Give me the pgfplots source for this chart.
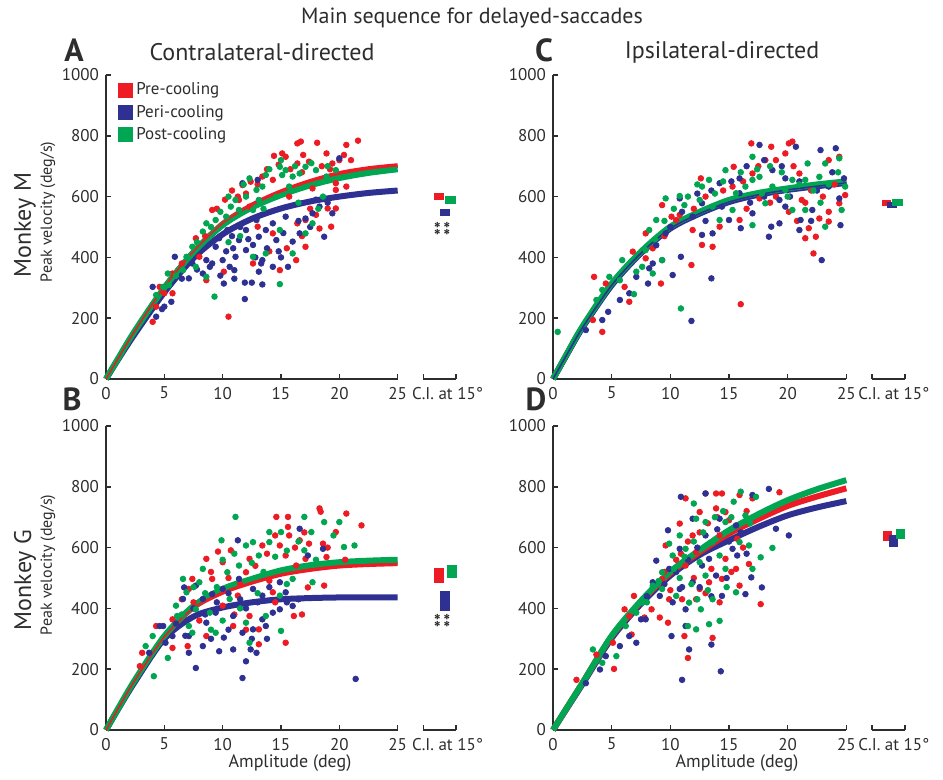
\documentclass[border=0pt]{standalone}
\usepackage{fontspec}
\setmainfont{PT Sans}
\usepackage{pgfplots}
\pgfplotsset{compat=1.18}
\definecolor{cred}{RGB}{237,28,36}
\definecolor{cblue}{RGB}{46,49,146}
\definecolor{cgreen}{RGB}{0,166,81}
\definecolor{axc}{RGB}{45,45,45}
\pgfplotsset{
  panel/.style={
    scale only axis, height=152pt,
    xmin=0, xmax=30, ymin=0, ymax=1000,
    enlargelimits=false, clip=false,
    axis x line*=bottom, axis y line*=left,
    x axis line style={draw=none},
    y axis line style={-, line width=0.9pt, axc},
    xtick={0,5,10,15,20,25}, ytick={0,200,400,600,800,1000},
    extra x ticks={27.2,30}, extra x tick labels={},
    tick align=inside, major tick length=2.5pt,
    tick style={line width=0.8pt, axc},
    ticklabel style={font=\fontsize{8.5}{9}\selectfont, text=axc},
    xticklabel style={yshift=-0.5pt},
    /pgf/number format/assume math mode=true,
    /pgf/number format/1000 sep={},
  },
  sc/.style={only marks, mark=square*, mark size=1.4pt, color=#1, forget plot},
  fit/.style={color=#1, line width=3pt, smooth, no marks, forget plot},
  thin/.style={color=#1, line width=0.8pt, smooth, no marks, forget plot},
  ci/.style={fill=#1, draw=none, forget plot},
}
\tikzset{stars/.style={rotate=90, font=\fontsize{9}{9}\selectfont\bfseries, inner sep=0pt, text=axc}}
\newcommand{\xaxisbroken}{%
  \draw[line width=0.9pt, axc] (axis cs:0,0) -- (axis cs:25,0);
  \draw[line width=0.9pt, axc] (axis cs:27.2,0) -- (axis cs:30,0);
}
\begin{document}
\begin{tikzpicture}
\useasboundingbox (0,0) rectangle (471.5pt,-390pt);
\tikzset{txt/.style={text=axc, inner sep=0pt}}
\node[txt, font=\fontsize{11}{12}\selectfont] at (236pt,-9pt) {Main sequence for delayed-saccades};
\node[txt, font=\fontsize{16}{17}\selectfont\bfseries] at (37pt,-25pt) {A};
\node[txt, font=\fontsize{16}{17}\selectfont\bfseries] at (272pt,-25pt) {C};
\node[txt, font=\fontsize{16}{17}\selectfont\bfseries] at (36pt,-199.5pt) {B};
\node[txt, font=\fontsize{16}{17}\selectfont\bfseries] at (268pt,-199.5pt) {D};
\node[txt, font=\fontsize{12}{13}\selectfont] at (131pt,-26pt) {Contralateral-directed};
\node[txt, font=\fontsize{12}{13}\selectfont] at (361pt,-26pt) {Ipsilateral-directed};
\node[txt, font=\fontsize{12}{13}\selectfont, rotate=90] at (12.5pt,-112.5pt) {Monkey M};
\node[txt, font=\fontsize{8}{9}\selectfont, rotate=90] at (24pt,-106pt) {Peak velocity (deg/s)};
\node[txt, font=\fontsize{12}{13}\selectfont, rotate=90] at (12.5pt,-290pt) {Monkey G};
\node[txt, font=\fontsize{8}{9}\selectfont, rotate=90] at (24pt,-282.5pt) {Peak velocity (deg/s)};
\node[txt, font=\fontsize{9}{10}\selectfont] at (145pt,-381.5pt) {Amplitude (deg)};
\node[txt, font=\fontsize{9}{10}\selectfont] at (368.5pt,-381.5pt) {Amplitude (deg)};

% ---------------- Panel A ----------------
\begin{axis}[panel, width=175pt, at={(53pt,-189.5pt)}, anchor=south west,
  legend style={at={(axis description cs:0.034,0.985)}, anchor=north west, draw=none, fill=none,
    inner sep=0pt, font=\fontsize{8.5}{9}\selectfont, row sep=0.6pt,
    nodes={text=axc, inner sep=1.5pt}},
  legend cell align=left,
  legend image code/.code={\fill[#1] (0pt,-3.75pt) rectangle (7.5pt,3.75pt);}]
\addlegendimage{fill=cred, draw=none}\addlegendentry{Pre-cooling}
\addlegendimage{fill=cblue, draw=none}\addlegendentry{Peri-cooling}
\addlegendimage{fill=cgreen, draw=none}\addlegendentry{Post-cooling}
\xaxisbroken
\addplot[sc=cred] coordinates {(16.4,775)(18.1,777)(20.6,770)(21.6,784)(16.7,781)(15.1,742)(14.4,734)(15.4,731)(16.9,737)(18.9,742)(20.4,737)(20,720)(16.4,709)(17.4,715)(19.4,709)(13.4,666)(12.4,649)(11.7,638)(11.3,600)(11.4,589)(9.1,556)(19.7,644)(20.6,633)(19.7,622)(19,561)(19.7,561)(16.4,512)(17.1,523)(18.3,495)(19.3,501)(17.1,435)(16.3,391)(14.9,358)(12.6,380)(10.1,353)(8.6,325)(10.5,205)(5.7,282)(4,188)(4.6,303)(8,402)(7.7,463)(5.7,347)(12.3,567)(13,501)(14.3,479)(15.7,600)(17.7,627)(14.3,655)(4.3,238)(5,282)
(9.5,560)(10.2,590)(10.8,620)(12,610)(13,640)(13.8,690)(14.8,705)(15.8,690)(16.8,680)(18.5,700)(19.2,690)(21,720)(17.5,560)(18,540)(16.8,470)(15.5,430)(14,420)(6.5,380)(7,400)(8.5,470)};
\addplot[sc=cblue] coordinates {(5.9,402)(4,303)(4.3,205)(4.8,230)(5,238)(5.6,254)(7.1,331)(8.3,347)(9.1,380)(8.6,391)(7.4,380)(9.4,435)(10,391)(10.6,369)(11.1,402)(10.9,430)(11.4,457)(12,424)(12.6,441)(13.1,468)(13.7,490)(14.3,512)(14.6,457)(13.4,391)(13.1,353)(14.3,369)(15.6,369)(16,452)(16.6,479)(17.1,528)(17.7,545)(18.7,468)(18.3,567)(19.4,545)(11.9,317)(12.5,317)(13.4,311)(11.9,263)(10.1,314)(11,358)(12,490)(12.9,523)(15.4,534)(11.7,644)(13,655)(20,726)(10.4,490)(9.7,463)(8.9,369)
(10.3,420)(10.8,470)(11.5,500)(12.2,460)(12.8,400)(13.8,430)(14.8,420)(15.2,480)(16.5,520)(17.5,500)(18,590)(19,580)(11,330)(9.8,340)(6.5,330)(7.8,360)(13.3,380)(15,400)};
\addplot[sc=cgreen] coordinates {(5.3,347)(5.4,309)(4.3,276)(4.9,303)(6.6,358)(6.9,402)(7.4,435)(8.3,485)(8.6,512)(9.4,523)(10.3,534)(10.7,567)(11.1,589)(12,600)(12.9,622)(13.4,633)(13.7,671)(14.9,698)(15.4,687)(16,666)(16.6,676)(17.1,698)(18,687)(18.9,666)(19.7,687)(14.6,600)(15.7,633)(12.6,556)(14.9,490)(17.1,479)(17.7,512)(13.7,413)(16,413)(9.3,271)(14.9,312)(12.6,402)(7.7,369)(8.6,336)(11.4,556)(13.1,589)(15.1,671)(18.6,600)
(7,400)(7.8,450)(9,500)(9.8,550)(10.5,600)(11.8,640)(12.3,660)(14,690)(15,720)(16.2,700)(17.6,710)(19,700)(13.5,560)(16.5,580)(18.2,560)(11.5,470)(10.5,450)(6,340)};
\addplot[fit=cblue] coordinates {(0,0)(1,62)(2.5,150)(5,285)(7.5,398)(10,476)(12.5,527)(15,561)(17.5,584)(20,600)(22.5,612)(25,620)};
\addplot[fit=cred, line width=2.4pt] coordinates {(0,0)(1,65)(2.5,160)(5,303)(7.5,420)(10,512)(12.5,572)(15,616)(17.5,650)(20,676)(22.5,692)(25,702)};
\addplot[fit=cgreen] coordinates {(0,0)(1,65)(2.5,160)(5,300)(7.5,417)(10,506)(12.5,564)(15,605)(17.5,637)(20,661)(22.5,678)(25,690)};
\addplot[thin=cred] coordinates {(0,0)(1,65)(2.5,160)(5,303)(7.5,420)(10,512)(12.5,572)(15,616)(17.5,650)(20,676)(22.5,692)(25,702)};
\addplot[ci=cred] coordinates {(28.1,589)(29.0,589)(29.0,612)(28.1,612)} -- cycle;
\addplot[ci=cgreen] coordinates {(29.1,576)(30.0,576)(30.0,602)(29.1,602)} -- cycle;
\addplot[ci=cblue] coordinates {(28.65,536)(29.5,536)(29.5,559)(28.65,559)} -- cycle;
\node[stars] at (axis cs:28.75,495) {**};
\node[stars] at (axis cs:29.55,495) {**};
\node[anchor=north west, inner sep=0pt, text=axc, font=\fontsize{8.5}{9}\selectfont] at (axis cs:26.2,0) [yshift=-4pt] {C.I. at 15°};
\end{axis}

% ---------------- Panel B ----------------
\begin{axis}[panel, width=175pt, at={(53pt,-365pt)}, anchor=south west]
\xaxisbroken
\addplot[sc=cred] coordinates {(8.6,563)(9.6,587)(10.7,591)(10,552)(12.3,563)(14.6,701)(15.6,701)(15.6,668)(15.7,640)(14.9,607)(16.6,624)(17.4,613)(18.3,729)(18.4,718)(20.6,712)(21.9,673)(19.7,651)(18.6,613)(18.9,569)(17.1,563)(15.4,574)(16.3,541)(17.3,469)(18.7,475)(16.1,375)(15.4,287)(13.1,282)(12.3,375)(13.1,331)(10.9,342)(10,409)(9.1,497)(7.4,497)(7.1,464)(5.7,364)(5.7,270)(4.3,342)(3.1,254)(2.9,210)(8.6,309)(7,276)(14.3,453)(12,519)(13.4,607)(11.3,442)(14,491)
(9,520)(10.5,500)(11.5,480)(12.8,540)(13.8,580)(14.5,640)(16.2,600)(17,650)(19,600)(20.5,560)(11,380)(12,330)(14.5,420)(16.8,380)(7.5,420)(6.5,430)(8,360)};
\addplot[sc=cblue] coordinates {(6.7,469)(6.6,431)(7.7,475)(8.3,431)(9.1,447)(10,464)(11.4,497)(11.3,624)(12.6,464)(13.4,442)(14.9,486)(15.4,453)(16.6,662)(18.6,596)(17.3,574)(4.9,342)(5.1,287)(5.7,309)(7.1,309)(7.1,254)(7.7,204)(8.3,276)(9.7,259)(10.1,304)(10.9,265)(11.7,171)(12,226)(12.4,265)(11.7,320)(12.6,331)(13.4,364)(14.3,386)(13.7,342)(14.9,397)(21.4,168)(10.9,375)(9.4,386)(8.6,353)(3.7,254)(4.6,342)(16,408)(12.9,254)
(7.5,400)(8.5,380)(9.5,420)(10.5,450)(11.5,430)(12,400)(13,420)(14,470)(15.5,420)(16.5,430)(6,350)(6.8,310)(9,300)(10.5,330)(12.5,300)(13.8,300)};
\addplot[sc=cgreen] coordinates {(11.1,701)(9.9,624)(8.3,530)(8,486)(6.9,453)(6,409)(6.1,375)(7.1,342)(7.4,320)(4,309)(4.1,177)(5.3,237)(3.4,276)(12,607)(12.6,618)(13.1,574)(14,651)(15,651)(14,618)(17,701)(17.6,651)(18.7,684)(20,684)(20.4,602)(21.3,607)(17,591)(17.7,486)(16,497)(14.9,442)(13.7,375)(12.3,287)(15,326)(12,353)(10.6,431)(9.4,320)(8.9,386)(10.4,519)(11.4,541)(6.6,497)(7.7,397)
(7.5,470)(8.5,450)(9.5,470)(10,560)(11,580)(12.5,550)(13.5,520)(14.5,570)(15.5,590)(16.5,620)(18,560)(19.5,640)(11.5,400)(13,450)(15.5,480)(10,360)(9,330)(6.5,380)};
\addplot[fit=cblue] coordinates {(0,0)(1,66)(2.5,160)(5,300)(7.5,373)(10,403)(12.5,420)(15,430)(17.5,434)(20,436)(22.5,436)(25,436)};
\addplot[fit=cred, line width=2.4pt] coordinates {(0,0)(1,68)(2.5,165)(5,306)(7.5,402)(10,453)(12.5,486)(15,512)(17.5,528)(20,539)(22.5,544)(25,547)};
\addplot[fit=cgreen] coordinates {(0,0)(1,68)(2.5,166)(5,309)(7.5,408)(10,464)(12.5,497)(15,525)(17.5,542)(20,552)(22.5,557)(25,560)};
\addplot[thin=cred] coordinates {(0,0)(1,68)(2.5,165)(5,306)(7.5,402)(10,453)(12.5,486)(15,512)(17.5,528)(20,539)(22.5,544)(25,547)};
\addplot[ci=cred] coordinates {(28.1,483)(29.0,483)(29.0,533)(28.1,533)} -- cycle;
\addplot[ci=cgreen] coordinates {(29.2,500)(30.05,500)(30.05,543)(29.2,543)} -- cycle;
\addplot[ci=cblue] coordinates {(28.6,391)(29.5,391)(29.5,457)(28.6,457)} -- cycle;
\node[stars] at (axis cs:28.75,360) {**};
\node[stars] at (axis cs:29.55,360) {**};
\node[anchor=north west, inner sep=0pt, text=axc, font=\fontsize{8.5}{9}\selectfont] at (axis cs:26.2,0) [yshift=-4pt] {C.I. at 15°};
\end{axis}

% ---------------- Panel C ----------------
\begin{axis}[panel, width=176pt, at={(276.5pt,-189.5pt)}, anchor=south west]
\xaxisbroken
\addplot[sc=cred] coordinates {(3.5,336)(4.5,314)(4.2,155)(3.4,194)(6.5,254)(6.1,303)(9.3,572)(10.1,534)(10.5,523)(11.8,375)(9.2,314)(12.6,660)(12.7,441)(13.6,435)(15.4,698)(14.2,501)(16,246)(16.9,775)(18.6,764)(19.8,742)(20.1,775)(20.4,781)(18.1,720)(19,600)(20.1,550)(21.5,463)(22.4,468)(21.8,496)(22.2,413)(22.7,528)(23.5,518)(24.4,578)(24.9,605)(23.5,720)(24.4,731)(15.3,633)(17,676)(7.9,397)(6.8,419)(7.9,479)(11.9,490)(15.9,523)(17.6,594)(21.2,589)(21,676)
(8.5,430)(9.5,470)(10.8,540)(12,560)(13,600)(14.5,620)(16.2,650)(17.5,700)(19,720)(20.5,700)(22,620)(23,600)(24,640)(21.5,580)(18.5,580)(16.5,560)(20.8,520)(23.5,550)};
\addplot[sc=cblue] coordinates {(2.8,161)(4.2,194)(4.7,221)(5.7,260)(6.5,282)(8.1,314)(8.5,380)(8.2,364)(9.3,391)(10.9,402)(10.8,594)(10.2,342)(11.8,191)(13.5,331)(12.7,474)(13.6,479)(15,523)(16,496)(14.2,644)(15.9,660)(17.6,770)(18.7,687)(20.7,764)(19.8,660)(19.3,589)(18.6,501)(18.4,468)(19.3,512)(21.1,523)(21,490)(22.9,391)(22.8,753)(24.1,759)(24.4,594)(24.5,506)(23.5,633)(17,545)(12.7,578)(14.4,567)(19.8,567)(22.1,556)(11.9,534)(9.6,479)(7.1,336)(15.9,611)
(8.8,440)(10,500)(11,550)(12.3,610)(13.5,620)(15.2,650)(16.5,700)(18,720)(19.5,700)(21,650)(22.5,620)(23.8,680)(24.8,660)(20.2,600)(18,600)(16.8,580)(13,520)(22,520)};
\addplot[sc=cgreen] coordinates {(0.4,155)(3.7,260)(4.8,336)(5.7,325)(6.9,279)(7.6,369)(7.9,424)(8.2,490)(8.8,523)(9.6,594)(10.8,602)(11.2,572)(10.9,232)(9.3,391)(8.5,347)(12.5,589)(12.7,633)(13.3,655)(13.6,567)(14.7,687)(15.6,611)(16.4,633)(17,655)(17,731)(17.6,665)(18.1,578)(17,506)(19.8,622)(20.4,655)(21.7,709)(21.5,655)(22.7,665)(23.2,709)(24.4,726)(24.9,633)(24.6,556)(23.2,501)(21.5,556)(20.4,556)(14.2,523)(15.3,556)(18.7,633)(5.9,391)(4.2,293)(7.1,353)
(8.7,460)(9.5,520)(10.3,560)(11.5,600)(12.3,640)(13.8,610)(14.5,650)(16,680)(17.4,690)(18.5,700)(19.5,680)(21,640)(22.2,620)(23.5,640)(24.3,680)(20,600)(17.8,610)(22.8,580)};
\addplot[fit=cred] coordinates {(0,0)(1,69)(2.5,170)(5,311)(7.5,416)(10,498)(12.5,547)(15,586)(17.5,609)(20,624)(22.5,637)(25,647)};
\addplot[fit=cblue] coordinates {(0,0)(1,68)(2.5,168)(5,308)(7.5,414)(10,495)(12.5,544)(15,582)(17.5,606)(20,622)(22.5,634)(25,645)};
\addplot[fit=cgreen] coordinates {(0,0)(1,70)(2.5,172)(5,314)(7.5,419)(10,501)(12.5,550)(15,589)(17.5,612)(20,627)(22.5,640)(25,650)};
\addplot[thin=cblue] coordinates {(0,0)(1,68)(2.5,168)(5,308)(7.5,414)(10,495)(12.5,544)(15,582)(17.5,606)(20,622)(22.5,634)(25,645)};
\addplot[ci=cred] coordinates {(28.0,569)(28.8,569)(28.8,589)(28.0,589)} -- cycle;
\addplot[ci=cblue] coordinates {(28.5,563)(29.3,563)(29.3,582)(28.5,582)} -- cycle;
\addplot[ci=cgreen] coordinates {(28.9,569)(29.8,569)(29.8,592)(28.9,592)} -- cycle;
\node[anchor=north west, inner sep=0pt, text=axc, font=\fontsize{8.5}{9}\selectfont] at (axis cs:26.0,0) [yshift=-4pt] {C.I. at 15°};
\end{axis}

% ---------------- Panel D ----------------
\begin{axis}[panel, width=176pt, at={(276.5pt,-365pt)}, anchor=south west]
\xaxisbroken
\addplot[sc=cred] coordinates {(2,165)(3.7,248)(5.2,201)(6.7,314)(6.9,441)(6.1,397)(8.4,397)(9.1,370)(9.8,353)(11.2,309)(11.5,237)(13.6,303)(10.9,580)(11.3,762)(10.8,679)(11.9,640)(13,778)(13.9,778)(14.4,778)(13.9,729)(14.7,717)(12.5,717)(15.9,773)(19.3,782)(17,762)(15.7,629)(14.7,563)(15.6,530)(16.7,546)(17.7,414)(15.9,475)(14.4,497)(13.5,530)(12.5,464)(12.2,430)(13.3,486)(9.3,497)(9.6,607)(11.3,541)(6.5,375)(5.1,287)(7.8,370)(9.9,430)(14.2,640)(12.2,585)
(9.5,520)(10.5,560)(11.5,620)(12.5,650)(13.2,680)(14,700)(15,690)(16.5,720)(12,500)(13,450)(14.2,420)(15.2,520)(11,430)(10,460)(16.2,600)};
\addplot[sc=cblue] coordinates {(2.8,154)(4.5,243)(5.7,276)(6.5,309)(7.5,364)(7.9,364)(8.8,557)(9.1,441)(9.8,657)(10.9,767)(10.1,309)(11,165)(11.6,265)(13.5,281)(14.3,193)(11.3,397)(10.8,464)(11.9,486)(12.7,541)(13.3,563)(13.9,508)(15.3,596)(15.7,574)(16.4,447)(17.8,469)(16.9,502)(19,662)(20.1,640)(13,778)(18.4,793)(17,773)(15.6,673)(14.2,695)(11.9,695)(10.8,596)(9.9,530)(8.5,486)(14.4,441)(11.3,342)(7.1,287)(4,199)
(9.5,480)(10.5,520)(11.5,560)(12.3,600)(13,640)(14,660)(15,620)(16,650)(12.5,470)(13.5,440)(14.8,500)(10.2,420)(11,470)(16.5,580)(8,440)};
\addplot[sc=cgreen] coordinates {(4.2,221)(5.4,243)(3.4,265)(6.2,342)(8.5,475)(9.3,519)(10.2,574)(11.3,596)(12.2,695)(12,745)(13,684)(14.7,684)(15.4,751)(16,784)(17.3,767)(16.4,706)(15.9,618)(16.7,607)(18.7,599)(17.7,568)(17,530)(15.6,453)(13.6,430)(12.6,397)(11.5,342)(12.2,331)(13.3,348)(14.2,359)(11.6,419)(10.5,441)(9.3,464)(13.6,618)(14.2,574)(12.5,552)(10.8,640)(9.9,613)(7.6,419)(7.1,386)(14.7,530)(13,508)
(9,490)(10.3,530)(11.2,570)(12,620)(12.8,650)(13.8,700)(14.5,720)(15.2,700)(16.8,680)(11.8,480)(13.2,460)(14.8,470)(10.8,500)(12.3,430)(8,420)};
\addplot[fit=cblue] coordinates {(0,0)(1,60)(2.5,150)(5,302)(7.5,415)(10,508)(12.5,576)(15,624)(17.5,668)(20,706)(22.5,732)(25,753)};
\addplot[fit=cred] coordinates {(0,0)(1,62)(2.5,154)(5,308)(7.5,422)(10,516)(12.5,585)(15,646)(17.5,694)(20,737)(22.5,768)(25,795)};
\addplot[fit=cgreen] coordinates {(0,0)(1,62)(2.5,154)(5,310)(7.5,425)(10,521)(12.5,592)(15,657)(17.5,710)(20,756)(22.5,792)(25,822)};
\addplot[ci=cred] coordinates {(28.1,623)(28.9,623)(28.9,656)(28.1,656)} -- cycle;
\addplot[ci=cblue] coordinates {(28.6,603)(29.4,603)(29.4,642)(28.6,642)} -- cycle;
\addplot[ci=cgreen] coordinates {(29.2,629)(30.0,629)(30.0,662)(29.2,662)} -- cycle;
\node[anchor=north west, inner sep=0pt, text=axc, font=\fontsize{8.5}{9}\selectfont] at (axis cs:26.0,0) [yshift=-4pt] {C.I. at 15°};
\end{axis}
\end{tikzpicture}
\end{document}
